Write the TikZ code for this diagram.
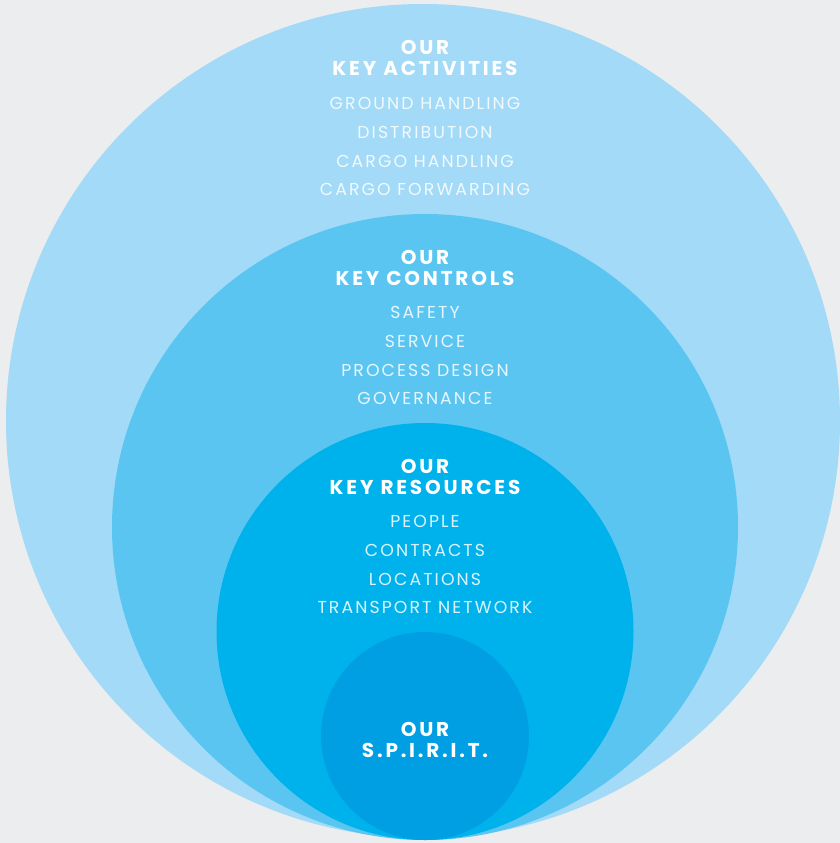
\documentclass[tikz,border=0pt]{standalone}
\usepackage{fontspec}
\setmainfont{Poppins}
\newfontfamily\headfont[LetterSpace=14]{Poppins}
\newfontfamily\itemfont[LetterSpace=12]{Poppins}
\definecolor{bg}{HTML}{ECEDEF}
\definecolor{ringA}{HTML}{A2DAF7}
\definecolor{ringB}{HTML}{5BC5F2}
\definecolor{ringC}{HTML}{00B2EB}
\definecolor{ringD}{HTML}{009FE3}
\begin{document}
\begin{tikzpicture}[x=1pt,y=-1pt,
  head/.style={anchor=base,text=white,inner sep=0pt,font=\headfont\bfseries\fontsize{20}{20}\selectfont},
  item/.style={anchor=base,text=white,text opacity=0.85,inner sep=0pt,font=\itemfont\fontsize{17.3}{17.3}\selectfont}]
\fill[bg] (0,0) rectangle (840,843);
\useasboundingbox (0,0) rectangle (840,843);
\fill[ringA] (423,421) circle[radius=417];
\fill[ringB] (425,527) circle[radius=313];
\fill[ringC] (425,631.5) circle[radius=208.5];
\fill[ringD] (425,736) circle[radius=104];
% activities
\node[head] (a0) at (425,55) {OUR};
\node[head] (a1) at (425,76) {KEY ACTIVITIES};
\node[item] (a2) at (425,109) {GROUND HANDLING};
\node[item] (a3) at (425,138) {DISTRIBUTION};
\node[item] (a4) at (425,167) {CARGO HANDLING};
\node[item] (a5) at (425,195) {CARGO FORWARDING};
% controls
\node[head] (b0) at (425,264) {OUR};
\node[head] (b1) at (425,285) {KEY CONTROLS};
\node[item] (b2) at (425,318) {SAFETY};
\node[item] (b3) at (425,347) {SERVICE};
\node[item] (b4) at (425,376) {PROCESS DESIGN};
\node[item] (b5) at (425,404) {GOVERNANCE};
% resources
\node[head] (c0) at (425,473) {OUR};
\node[head] (c1) at (425,494) {KEY RESOURCES};
\node[item] (c2) at (425,527) {PEOPLE};
\node[item] (c3) at (425,556) {CONTRACTS};
\node[item] (c4) at (425,585) {LOCATIONS};
\node[item] (c5) at (425,613) {TRANSPORT NETWORK};
% spirit
\node[head] (d0) at (425,736) {OUR};
\node[head] (d1) at (425,757) {S.P.I.R.I.T.};
\end{tikzpicture}
\end{document}
